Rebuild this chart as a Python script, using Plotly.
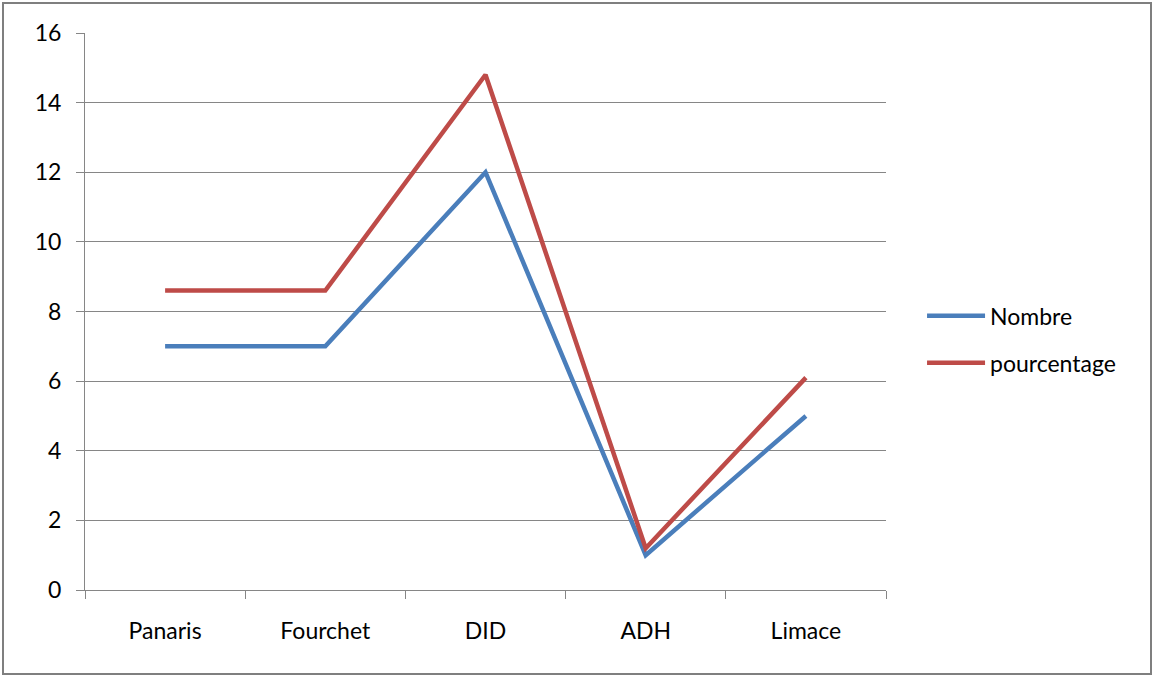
import plotly.graph_objects as go

categories = ["Panaris", "Fourchet", "DID", "ADH", "Limace"]
nombre = [7, 7, 12, 1, 5]
pourcentage = [8.6, 8.6, 14.8, 1.2, 6.1]
y_ticks = [0, 2, 4, 6, 8, 10, 12, 14, 16]

FONT = "Lato, 'Open Sans', sans-serif"
GRID = "#868686"

fig = go.Figure()
fig.add_trace(go.Scatter(x=categories, y=nombre, name="Nombre", mode="lines",
                         line=dict(color="#4A7EBB", width=4.5), legendgroup="a"))
fig.add_trace(go.Scatter(x=categories, y=pourcentage, name="pourcentage", mode="lines",
                         line=dict(color="#BE4B48", width=4.5), legendgroup="b"))

L, R, T, B = 85, 269, 33, 88
W, H = 1155, 678
pw, ph = W - L - R, H - T - B

# outer chart frame
fig.add_shape(type="rect", xref="paper", yref="paper",
              x0=(3 - L) / pw, x1=(W - 4 - L) / pw,
              y0=(H - B - (H - 4)) / ph, y1=(H - B - 3) / ph,
              line=dict(color="#7F7F7F", width=2), fillcolor="rgba(0,0,0,0)", layer="below")

fig.update_layout(
    width=W, height=H,
    margin=dict(l=L, r=R, t=T, b=B),
    paper_bgcolor="white", plot_bgcolor="white",
    font=dict(family=FONT, size=23, color="black"),
    showlegend=True,
    legend=dict(x=1.045, y=0.45, xanchor="left", yanchor="middle",
                tracegroupgap=14, itemwidth=58, font=dict(size=23)),
    xaxis=dict(type="category", tickson="boundaries", ticks="outside", ticklen=8,
               tickcolor=GRID, showgrid=False, showline=True, linecolor=GRID,
               linewidth=1, range=[-0.5, 4.5], ticklabelstandoff=20),
    yaxis=dict(range=[0, 16], tickvals=y_ticks, ticks="outside", ticklen=8,
               tickcolor=GRID, showgrid=True, gridcolor=GRID, gridwidth=1,
               showline=True, linecolor=GRID, linewidth=1, zeroline=False,
               ticklabelstandoff=10),
)

fig.write_html("out.html")
